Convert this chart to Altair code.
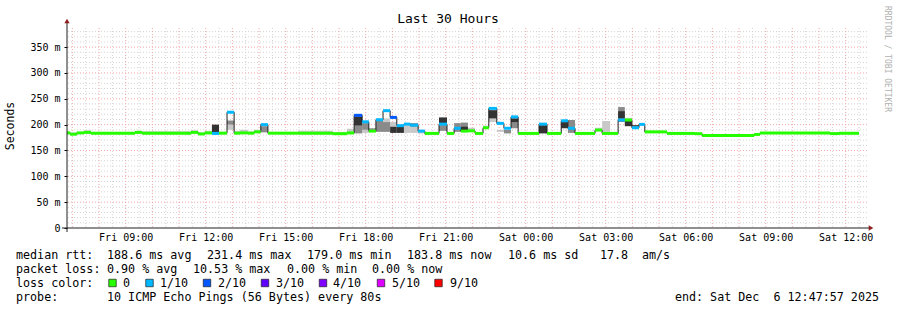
import altair as alt
import pandas as pd

# ---------------- data ----------------
DAYS = {"Fri": "2025-12-05", "Sat": "2025-12-06"}

seg_start = ["Fri 06:48", "Fri 06:55", "Fri 07:10", "Fri 07:26", "Fri 07:42", "Fri 09:21", "Fri 09:37", "Fri 11:27",
             "Fri 11:43", "Fri 11:58", "Fri 12:14", "Fri 12:30", "Fri 12:48", "Fri 13:04", "Fri 13:17", "Fri 13:35",
             "Fri 13:49", "Fri 14:04", "Fri 14:20", "Fri 15:28", "Fri 16:46", "Fri 17:18", "Fri 17:34", "Fri 17:52",
             "Fri 18:07", "Fri 18:23", "Fri 18:39", "Fri 18:55", "Fri 19:10", "Fri 19:26", "Fri 19:40", "Fri 19:58",
             "Fri 20:13", "Fri 20:45", "Fri 21:03", "Fri 21:19", "Fri 21:34", "Fri 21:50", "Fri 22:06", "Fri 22:24",
             "Fri 22:37", "Fri 22:55", "Fri 23:11", "Fri 23:27", "Fri 23:43", "Sat 00:30", "Sat 00:48", "Sat 01:20",
             "Sat 01:35", "Sat 01:51", "Sat 02:36", "Sat 02:52", "Sat 03:10", "Sat 03:28", "Sat 03:43", "Sat 03:59",
             "Sat 04:15", "Sat 04:28", "Sat 05:18", "Sat 06:21", "Sat 06:37", "Sat 08:34", "Sat 08:47", "Sat 11:25",
             "Sat 11:45"]
data_end = "Sat 12:30"

median_ms = [184, 181.5, 184, 185, 183.5, 185, 183.5, 185, 182, 184,
             183, 183.5, 224, 183.5, 184, 183.5, 186, 200, 183.5, 183.5,
             182.5, 184, 218, 205.5, 187.5, 209.5, 227, 214, 198, 201,
             199, 187.5, 183, 201, 183, 193, 187.5, 188, 183, 194,
             231.4, 202.5, 193, 215, 183, 201, 183, 207.5, 193, 183,
             189.5, 183, 183, 209, 209, 194, 200.5, 186, 183, 182.5,
             178.8, 181, 183.7, 182.7, 183.3]

loss_idx = [0, 0, 0, 0, 0, 0, 0, 0, 0, 0,
            1, 0, 1, 0, 0, 0, 0, 1, 0, 0,
            0, 0, 2, 1, 0, 1, 1, 2, 1, 1,
            1, 1, 0, 1, 0, 1, 0, 0, 0, 0,
            1, 1, 1, 1, 0, 1, 0, 1, 1, 0,
            0, 0, 0, 1, 0, 1, 1, 0, 0, 0,
            0, 0, 0, 0, 0]

# smoke bands: segment index, low ms, high ms, tone
smoke_seg = [0, 1, 2, 3, 4, 5, 6, 7, 8, 9,
             10, 11, 12, 12, 13, 14, 15, 16, 17, 18, 19,
             20, 21, 22, 22, 23, 23, 24, 25, 26, 26, 27, 27, 28, 29,
             30, 30, 31, 32, 33, 33, 34, 35, 36, 36, 37, 38, 39,
             40, 40, 41, 42, 43, 43, 44, 45, 46, 47, 48, 49,
             50, 51, 52, 53, 53, 54, 54, 55, 57, 58,
             60, 62]
smoke_lo = [184, 181.5, 184, 185, 183.5, 185, 183.5, 185, 182, 184,
            185, 183.5, 190, 200, 184, 184, 184, 186, 185, 184, 184,
            183, 184, 183, 198, 184, 190, 188, 186, 205, 186, 196, 184, 184, 184,
            184, 196, 183, 183, 188, 202, 183, 186, 189, 189, 188, 183, 194,
            205, 212, 186, 183, 193, 205, 183, 183, 183, 193, 184, 183,
            190, 186, 183, 205, 212, 209, 197, 196, 186, 183,
            179, 184]
smoke_hi = [187, 185, 186, 189, 186, 188, 187, 189, 185, 188,
            200, 186, 200, 208, 188, 190, 187, 190, 197, 186, 188,
            186, 192, 198, 216, 190, 203, 193, 207, 212, 205, 205, 196, 196, 199,
            196, 203, 186, 186, 200, 214, 186, 203, 204, 196, 194, 186, 198,
            212, 228, 190, 190, 212, 212, 185, 199, 185, 205, 209, 185,
            194, 207, 186, 234, 226, 213, 207, 199, 188, 185,
            181, 186]
smoke_tone = ["light"] * 10 + \
             ["dark", "light", "light", "mid", "light", "light", "light", "light", "mid", "light", "light"] + \
             ["light", "light", "mid", "dark", "light", "mid", "mid", "mid", "light", "mid", "light", "dark", "dark", "light"] + \
             ["light", "mid", "light", "light", "mid", "dark", "light", "mid", "mid", "dark", "light", "light", "light"] + \
             ["light", "dark", "light", "mid", "mid", "dark", "light", "dark", "light", "dark", "mid", "light"] + \
             ["light", "light", "light", "mid", "dark", "light", "dark", "dark", "light", "light"] + \
             ["light", "light"]

loss_labels = ["0", "1/10", "2/10", "3/10", "4/10", "5/10", "9/10"]
loss_colors = ["#26ff00", "#00b8ff", "#0059ff", "#5e00ff", "#7e00ff", "#dd00ff", "#ff0000"]

y_ticks = [0, 50, 100, 150, 200, 250, 300, 350]
x_label_times = ["Fri 09:00", "Fri 12:00", "Fri 15:00", "Fri 18:00", "Fri 21:00",
                 "Sat 00:00", "Sat 03:00", "Sat 06:00", "Sat 09:00", "Sat 12:00"]

stats_rtt = ["median rtt:", "188.6 ms avg", "231.4 ms max", "179.0 ms min", "183.8 ms now", "10.6 ms sd", "17.8", "am/s"]
stats_loss = ["packet loss:", "0.90 % avg", "10.53 % max", "0.00 % min", "0.00 % now"]
probe_text = ["probe:", "10 ICMP Echo Pings (56 Bytes) every 80s"]
end_text = "end: Sat Dec  6 12:47:57 2025"

# ---------------- helpers ----------------
def ts(s):
    d, hm = s.split()
    return pd.Timestamp(f"{DAYS[d]} {hm}")

starts = [ts(s) for s in seg_start]
ends = starts[1:] + [ts(data_end)]

seg = pd.DataFrame({"start": starts, "end": ends, "med": median_ms,
                    "loss": [loss_labels[i] for i in loss_idx]})
line_df = pd.DataFrame({"start": starts + [ts(data_end)], "med": median_ms + [median_ms[-1]]})
tone_order = {"light": 0, "mid": 1, "dark": 2}
smoke = pd.DataFrame({"start": [starts[i] for i in smoke_seg], "end": [ends[i] for i in smoke_seg],
                      "lo": smoke_lo, "hi": smoke_hi, "tone": smoke_tone})
smoke["o"] = smoke["tone"].map(tone_order)
smoke = smoke.sort_values("o", kind="stable")

hours_major = pd.date_range("2025-12-05 07:00", "2025-12-06 12:00", freq="60min")
hours_minor = pd.date_range("2025-12-05 07:30", "2025-12-06 12:30", freq="60min")
vmaj = pd.DataFrame({"start": hours_major})
vmin = pd.DataFrame({"start": hours_minor})
hmaj = pd.DataFrame({"med": [v for v in range(50, 400, 50)]})
hmin = pd.DataFrame({"med": [v for v in range(10, 390, 10) if v % 50]})

MONO = "DejaVu Sans Mono"
x_dom = [alt.DateTime(year=2025, month=12, date=5, hours=6, minutes=47, seconds=57),
         alt.DateTime(year=2025, month=12, date=6, hours=12, minutes=47, seconds=57)]
xscale = alt.Scale(domain=x_dom)
yscale = alt.Scale(domain=[0, 387])

def dt(s):
    t = ts(s)
    return alt.DateTime(year=t.year, month=t.month, date=t.day, hours=t.hour, minutes=t.minute)

xaxis = alt.Axis(title=None, values=[dt(s) for s in x_label_times], format="%a %H:%M", grid=False,
                 domain=False, ticks=False, labelFont=MONO, labelFontSize=10, labelColor="#000",
                 labelPadding=4, labelFlush=False, labelOverlap=False)
yaxis = alt.Axis(title=None, values=y_ticks, grid=False, domain=False, ticks=True, tickSize=3,
                 tickColor="#000", labelFont=MONO, labelFontSize=10, labelColor="#000", labelPadding=4,
                 labelExpr="datum.value == 0 ? '0\u00a0\u00a0' : datum.value + ' m'")

X = lambda f: alt.X(f"{f}:T", scale=xscale, axis=xaxis)
Y = lambda f: alt.Y(f"{f}:Q", scale=yscale, axis=yaxis)

grid_v_min = alt.Chart(vmin).mark_rule(color="#d4d4d4", strokeWidth=1, strokeDash=[1, 2]).encode(x=X("start"))
grid_v_maj = alt.Chart(vmaj).mark_rule(color="#f2a8a8", strokeWidth=1, strokeDash=[1, 2]).encode(x=X("start"))
grid_h_min = alt.Chart(hmin).mark_rule(color="#d4d4d4", strokeWidth=1, strokeDash=[1, 2]).encode(y=Y("med"))
grid_h_maj = alt.Chart(hmaj).mark_rule(color="#f2a8a8", strokeWidth=1, strokeDash=[1, 2]).encode(y=Y("med"))

smoke_layer = alt.Chart(smoke).mark_rect(strokeWidth=0).encode(
    x=X("start"), x2="end", y=Y("lo"), y2="hi",
    fill=alt.Fill("tone:N", scale=alt.Scale(domain=["light", "mid", "dark"],
                                            range=["#c8c8c8", "#8a8a8a", "#333333"]), legend=None))

median_line = alt.Chart(line_df).mark_line(interpolate="step-after", color="#202020", strokeWidth=1).encode(
    x=X("start"), y=Y("med"))

bands = alt.Chart(seg).mark_rule(strokeWidth=3).encode(
    x=X("start"), x2="end", y=Y("med"),
    stroke=alt.Stroke("loss:N", scale=alt.Scale(domain=loss_labels, range=loss_colors), legend=None))

one = pd.DataFrame({"a": [0]})
y_axis_line = alt.Chart(one).mark_rule(color="#202020").encode(
    x=alt.value(0), y=alt.value(204), y2=alt.value(-6))
x_axis_line = alt.Chart(one).mark_rule(color="#202020").encode(
    x=alt.value(-5), x2=alt.value(803), y=alt.value(200))
arrow_up = alt.Chart(one).mark_point(shape="triangle-up", filled=True, size=28, color="#902020", opacity=1).encode(
    x=alt.value(0), y=alt.value(-7))
arrow_right = alt.Chart(one).mark_point(shape="triangle-right", filled=True, size=28, color="#902020", opacity=1).encode(
    x=alt.value(804), y=alt.value(200))

PL, PT = 67, 28

def txt(s, x, y, size=11.7, align="left", color="#000", angle=0, font=MONO):
    return alt.Chart(one).mark_text(text=s.replace(" ", "\u00a0"), align=align, baseline="middle", font=font,
                                    fontSize=size, color=color, angle=angle).encode(
        x=alt.value(x - PL), y=alt.value(y - PT))

texts = [txt("Last 30 Hours", 448, 19, size=13, align="center"),
         txt("Seconds", 11, 126, size=11.5, align="center", angle=270),
         txt("RRDTOOL / TOBI OETIKER", 887, 59, size=8, align="center", color="#b0b0b0", angle=90)]

rtt_x = [16, 107, 207, 307, 407, 508, 600, 642]
for s, x in zip(stats_rtt, rtt_x):
    texts.append(txt(s, x, 255))
loss_x = [16, 107, 193, 287, 372]
for s, x in zip(stats_loss, loss_x):
    texts.append(txt(s, x, 269))
texts.append(txt("loss color:", 16, 283))
sq_x = [112.5, 149.5, 207, 265, 323, 381, 438.5]
lab_x = [123, 160, 218, 276, 333, 392, 450]
for i, (lab, col) in enumerate(zip(loss_labels, loss_colors)):
    texts.append(alt.Chart(one).mark_square(size=56, color=col, opacity=1, stroke="#202020", strokeWidth=0.7).encode(
        x=alt.value(sq_x[i] - PL), y=alt.value(283 - PT)))
    texts.append(txt(lab, lab_x[i], 283))
texts.append(txt(probe_text[0], 16, 297))
texts.append(txt(probe_text[1], 107, 297))
texts.append(txt(end_text, 879, 297, align="right"))

chart = alt.layer(grid_v_min, grid_h_min, grid_v_maj, grid_h_maj, smoke_layer, median_line, bands,
                  y_axis_line, x_axis_line, arrow_up, arrow_right, *texts).properties(
    width=800, height=200,
    autosize=alt.AutoSizeParams(type="none"),
    padding={"left": PL, "top": PT, "right": 30, "bottom": 82},
    background="#ffffff",
).configure_view(stroke=None)

chart.save("out.html", embed_options={"renderer": "svg", "actions": False})
